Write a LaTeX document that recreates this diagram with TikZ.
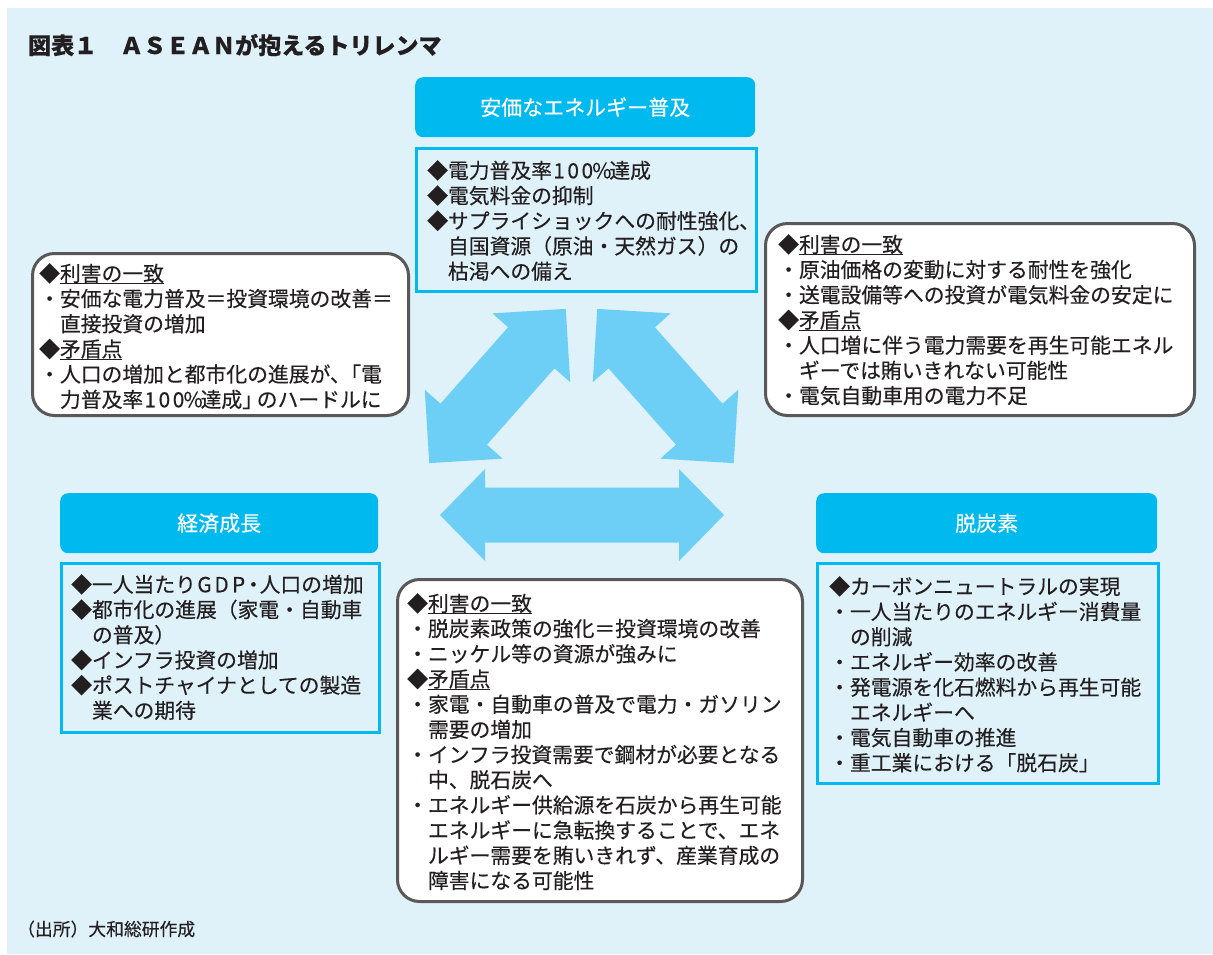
\documentclass[tikz,border=0pt]{standalone}
\usepackage{fontspec}
\setmainfont{Noto Sans CJK JP}[FakeBold=0.3]
\definecolor{bg}{HTML}{DFF2FA}
\definecolor{hdrc}{HTML}{00B9EF}
\definecolor{arr}{HTML}{6DCFF6}
\definecolor{ink}{HTML}{231F20}
\definecolor{frame}{HTML}{595757}
\newcommand\myul[1]{\leavevmode\setbox0\hbox{#1}\rlap{\rule[-3.2pt]{\wd0}{1.3pt}}\box0}
\newcommand\ind{\hspace*{1em}}
\newcommand\pct{\makebox[.68em]{1}\makebox[.68em]{0}\makebox[.68em]{0}\makebox[.72em]{\%}}
\newcommand\gdp{\makebox[.82em]{G}\makebox[.82em]{D}\makebox[.82em]{P}}
\newcommand\blockarrow[7]{% cx cy angle L h H s
  \begin{scope}[shift={(#1,#2)},rotate=#3]
    \fill[arr] (-#4/2,0) -- (-#4/2+#5,#6) -- (-#4/2+#5,#7) -- (#4/2-#5,#7) -- (#4/2-#5,#6)
      -- (#4/2,0) -- (#4/2-#5,-#6) -- (#4/2-#5,-#7) -- (-#4/2+#5,-#7) -- (-#4/2+#5,-#6) -- cycle;
  \end{scope}}
\begin{document}
\begin{tikzpicture}[x=1pt,y=-1pt,
  hdr/.style={rectangle, rounded corners=8pt, fill=hdrc, text=white,
    font=\fontsize{21}{25}\selectfont, inner sep=0, anchor=north west},
  cbox/.style={rectangle, draw=hdrc, line width=3pt, fill=bg, inner sep=0, anchor=north west},
  rbox/.style={rectangle, rounded corners=22pt, draw=frame, line width=3pt, fill=white,
    inner sep=0, anchor=north west},
  txt/.style={anchor=north west, inner sep=0, align=left, text=ink,
    font=\fontsize{20.8}{25.2}\selectfont}]
\useasboundingbox (0,0) rectangle (1213,954);
\fill[white] (0,0) rectangle (1213,954);
\fill[bg] (7,8) rectangle (1213,954);

% title
\node[anchor=west, inner sep=0, text=ink, font=\fontsize{23}{23}\selectfont\bfseries] (title) at (28,45)
  {図表１　ＡＳＥＡＮが抱えるトリレンマ};

% headers
\node[hdr, minimum width=340, minimum height=60] (hA) at (415,77) {安価なエネルギー普及};
\node[hdr, minimum width=318, minimum height=60] (hB) at (60,493) {経済成長};
\node[hdr, minimum width=341, minimum height=60] (hC) at (816,493) {脱炭素};

% content boxes
\node[cbox, minimum width=340, minimum height=143] (cA) at (415,147) {};
\node[cbox, minimum width=318, minimum height=169] (cB) at (60,562) {};
\node[cbox, minimum width=341, minimum height=220] (cC) at (816,562) {};

% rounded boxes
\node[rbox, minimum width=376, minimum height=162] (rL) at (31,252) {};
\node[rbox, minimum width=429, minimum height=192] (rR) at (764,222) {};
\node[rbox, minimum width=405, minimum height=322] (rM) at (396,578) {};

% texts
\node[txt] (tA) at (427,160) {◆電力普及率\pct 達成\\◆電気料金の抑制\\◆サプライショックへの耐性強化、\\\ind 自国資源（原油・天然ガス）の\\\ind 枯渇への備え};

\node[txt] (tR) at (778,234) {◆\myul{利害の一致}\\・原油価格の変動に対する耐性を強化\\・送電設備等への投資が電気料金の安定に\\◆\myul{矛盾点}\\・人口増に伴う電力需要を再生可能エネル\\\ind ギーでは賄いきれない可能性\\・電気自動車用の電力不足};

\node[txt] (tL) at (39,263) {◆\myul{利害の一致}\\・安価な電力普及＝投資環境の改善＝\\\ind 直接投資の増加\\◆\myul{矛盾点}\\・人口の増加と都市化の進展が、\kern-.5em「電\\\ind 力普及率\pct 達成」\kern-.3em のハードルに};

\node[txt] (tB) at (71,574) {◆一人当たり\gdp\kern-.2em・\kern-.2em 人口の増加\\◆都市化の進展（家電・自動車\\\ind の普及）\\◆インフラ投資の増加\\◆ポストチャイナとしての製造\\\ind 業への期待};

\node[txt] (tC) at (829,576) {◆カーボンニュートラルの実現\\・一人当たりのエネルギー消費量\\\ind の削減\\・エネルギー効率の改善\\・発電源を化石燃料から再生可能\\\ind エネルギーへ\\・電気自動車の推進\\・重工業における「脱石炭」};

\node[txt] (tM) at (407,593) {◆\myul{利害の一致}\\・脱炭素政策の強化＝投資環境の改善\\・ニッケル等の資源が強みに\\◆\myul{矛盾点}\\・家電・自動車の普及で電力・ガソリン\\\ind 需要の増加\\・インフラ投資需要で鋼材が必要となる\\\ind 中、脱石炭へ\\・エネルギー供給源を石炭から再生可能\\\ind エネルギーに急転換することで、エネ\\\ind ルギー需要を賄いきれず、産業育成の\\\ind 障害になる可能性};

% block arrows
\blockarrow{497.5}{386}{48.5}{206}{52}{52}{31}
\blockarrow{665.5}{386}{-48.5}{206}{52}{52}{31}
\blockarrow{582}{515}{0}{284}{45}{46}{27.5}

% source
\node[anchor=west, inner sep=0, text=ink, font=\fontsize{17.8}{20}\selectfont] (src) at (17,929) {（出所）大和総研作成};
\end{tikzpicture}
\end{document}
